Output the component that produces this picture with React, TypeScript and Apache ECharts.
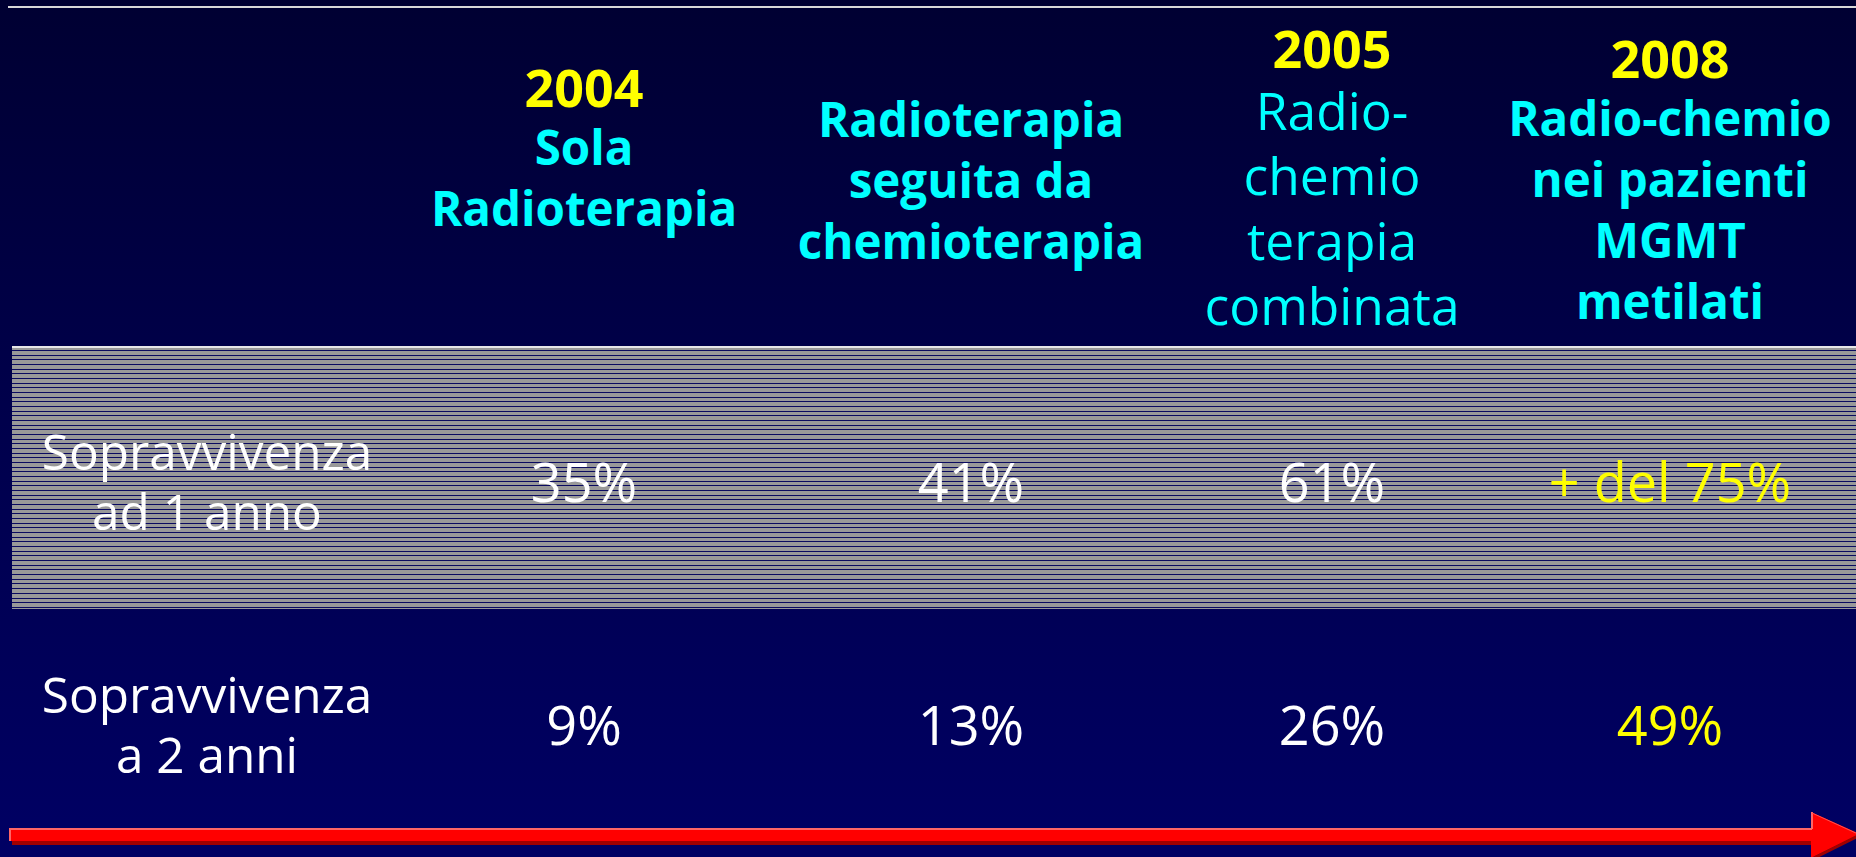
import React, { useEffect, useRef } from "react";
import * as echarts from "echarts";

// ---- data ----
const headerYears = ["2004", "", "2005", "2008"];
const headerTitles = [
  ["Sola", "Radioterapia"],
  ["Radioterapia", "seguita da", "chemioterapia"],
  ["Radio-", "chemio", "terapia", "combinata"],
  ["Radio-chemio", "nei pazienti", "MGMT", "metilati"],
];
const rowLabels = [
  ["Sopravvivenza", "ad 1 anno"],
  ["Sopravvivenza", "a 2 anni"],
];
const survival1y = [35, 41, 61, 75];
const survival1yPrefix = ["", "", "", "+ del "];
const survival2y = [9, 13, 26, 49];

// ---- layout & style ----
const W = 1856;
const H = 857;
const tableLeft = 8;
const colWidths = [398, 356, 418, 304, 372];
const rowCenters = [177, 481, 724];
const headerYOffset = [-30, 2, 0, 2];
const headerBoldTitle = [true, true, false, true];
const highlightCol = [false, false, false, true];
const stripeTop = 346;
const stripeBottom = 609;
const FF = "'Comic Sans MS', 'Open Sans', sans-serif";

const colCenters: number[] = [];
{
  let x = tableLeft;
  for (const w of colWidths) {
    colCenters.push(x + w / 2);
    x += w;
  }
}

const rich = {
  yr: { fill: "#ffff00", fontFamily: FF, fontWeight: "bold", fontSize: 52, lineHeight: 60 },
  hb: { fill: "#00ffff", fontFamily: FF, fontWeight: "bold", fontSize: 47.5, lineHeight: 61 },
  hr: { fill: "#00ffff", fontFamily: FF, fontWeight: "normal", fontSize: 51.5, lineHeight: 65 },
  lbl: { fill: "#ffffff", fontFamily: FF, fontWeight: "normal", fontSize: 49.5, lineHeight: 60 },
  val: { fill: "#ffffff", fontFamily: FF, fontWeight: "normal", fontSize: 54, lineHeight: 64 },
  valY: { fill: "#ffff00", fontFamily: FF, fontWeight: "normal", fontSize: 54, lineHeight: 64 },
};

type Cell = { x: number; y: number; text: string };
const cells: Cell[] = [];
headerTitles.forEach((lines, i) => {
  const parts: string[] = [];
  if (headerYears[i]) parts.push(`{yr|${headerYears[i]}}`);
  const st = headerBoldTitle[i] ? "hb" : "hr";
  lines.forEach((l) => parts.push(`{${st}|${l}}`));
  cells.push({ x: colCenters[i + 1], y: rowCenters[0] + headerYOffset[i], text: parts.join("\n") });
});
rowLabels.forEach((lines, r) => {
  cells.push({ x: colCenters[0], y: rowCenters[r + 1], text: lines.map((l) => `{lbl|${l}}`).join("\n") });
});
survival1y.forEach((v, i) => {
  const st = highlightCol[i] ? "valY" : "val";
  cells.push({ x: colCenters[i + 1], y: rowCenters[1], text: `{${st}|${survival1yPrefix[i]}${v}%}` });
});
survival2y.forEach((v, i) => {
  const st = highlightCol[i] ? "valY" : "val";
  cells.push({ x: colCenters[i + 1], y: rowCenters[2], text: `{${st}|${v}%}` });
});

function buildGraphic() {
  const els: any[] = [];
  els.push({
    type: "rect",
    z: -10,
    shape: { x: 0, y: 0, width: W, height: H },
    style: {
      fill: new echarts.graphic.LinearGradient(0, 0, 0, 1, [
        { offset: 0, color: "#000032" },
        { offset: 0.45, color: "#00004a" },
        { offset: 1, color: "#000064" },
      ]),
    },
  });
  // top rule
  els.push({ type: "line", z: 1, shape: { x1: 8, y1: 7, x2: W, y2: 7 }, style: { stroke: "#d8d8d8", lineWidth: 2 } });
  // striped band
  els.push({
    type: "rect",
    z: 1,
    shape: { x: 12, y: stripeTop, width: W - 12, height: stripeBottom - stripeTop },
    style: { fill: "#999999" },
  });
  for (let y = stripeTop + 4; y < stripeBottom; y += 4.67) {
    els.push({
      type: "line",
      z: 2,
      shape: { x1: 12, y1: Math.round(y) + 0.5, x2: W, y2: Math.round(y) + 0.5 },
      style: { stroke: "#0a0a60", lineWidth: 1 },
    });
  }
  els.push({ type: "line", z: 3, shape: { x1: 12, y1: stripeTop + 1, x2: W, y2: stripeTop + 1 }, style: { stroke: "#e8e8e8", lineWidth: 2 } });
  // arrow
  els.push({ type: "polygon", z: 3, shape: { points: [[12, 840], [1813, 840], [1813, 845], [12, 845]] }, style: { fill: "#a00000" } });
  els.push({ type: "polygon", z: 4, shape: { points: [[9, 828], [1812, 828], [1812, 841], [9, 841]] }, style: { fill: "#ff0000" } });
  els.push({ type: "line", z: 5, shape: { x1: 9, y1: 829, x2: 1812, y2: 829 }, style: { stroke: "#ff6666", lineWidth: 2 } });
  els.push({ type: "line", z: 5, shape: { x1: 10, y1: 828, x2: 10, y2: 841 }, style: { stroke: "#ff6666", lineWidth: 2 } });
  els.push({ type: "polygon", z: 4, shape: { points: [[1811, 812], [1860, 834], [1811, 858]] }, style: { fill: "#ff0000" } });
  els.push({ type: "line", z: 5, shape: { x1: 1812, y1: 812, x2: 1812, y2: 829 }, style: { stroke: "#ff6666", lineWidth: 2 } });
  els.push({ type: "line", z: 5, shape: { x1: 1812, y1: 813, x2: 1858, y2: 834 }, style: { stroke: "#ff5050", lineWidth: 1 } });
  els.push({ type: "line", z: 5, shape: { x1: 1858, y1: 836, x2: 1814, y2: 858 }, style: { stroke: "#a00000", lineWidth: 3 } });
  return els;
}

export default function App() {
  const ref = useRef<HTMLDivElement>(null);
  useEffect(() => {
    if (!ref.current) return;
    const chart = echarts.init(ref.current, undefined, { renderer: "svg" });
    chart.setOption({
      animation: false,
      backgroundColor: "#000040",
      grid: { left: 0, right: 0, top: 0, bottom: 0 },
      xAxis: { type: "value", min: 0, max: W, show: false },
      yAxis: { type: "value", min: 0, max: H, inverse: true, show: false },
      graphic: { elements: buildGraphic() },
      series: [
        {
          type: "custom",
          coordinateSystem: "cartesian2d",
          silent: true,
          z: 10,
          data: cells.map((c) => [c.x, c.y]),
          renderItem: (params: any, api: any) => {
            const c = cells[params.dataIndex];
            const p = api.coord([api.value(0), api.value(1)]);
            return {
              type: "text",
              x: p[0],
              y: p[1],
              z2: 10,
              style: {
                text: c.text,
                rich,
                align: "center",
                verticalAlign: "middle",
                fill: "#ffffff",
                fontFamily: FF,
              },
            };
          },
        },
      ],
    });
    return () => chart.dispose();
  }, []);
  return <div ref={ref} style={{ position: "fixed", left: 0, top: 0, width: W, height: H }} />;
}
